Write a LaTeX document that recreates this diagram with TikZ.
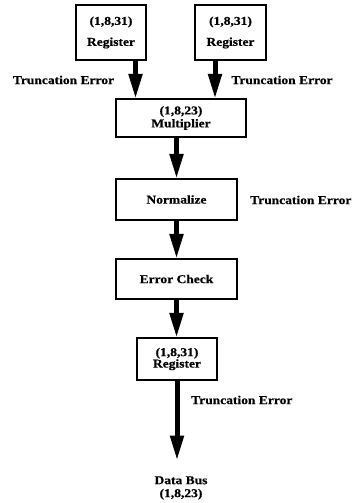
\documentclass[tikz,border=0pt]{standalone}
\usepackage{fontspec}
\setmainfont{Liberation Serif}[FakeStretch=1.13,FakeBold=0.6]
\usetikzlibrary{arrows.meta}
\begin{document}
\begin{tikzpicture}[x=1bp,y=-1bp,
  every node/.style={font=\fontsize{12}{13}\selectfont\bfseries, inner sep=0pt, align=center},
  blk/.style={draw, line width=1.3bp, rectangle},
  lbl/.style={},
  bigarrow/.style={line width=5bp, -{Triangle[width=13bp,length=25bp]}, shorten >=-0.5bp}
]
\useasboundingbox (0,0) rectangle (353,503);
\clip (0,0) rectangle (353,503);
\node[blk, line width=2.2bp, minimum width=70bp, minimum height=55bp] (reg1) at (111,32.5) {(1,8,31)\\[8bp]Register};
\node[blk, minimum width=71bp, minimum height=55bp] (reg2) at (230.5,32.5) {(1,8,31)\\[8bp]Register};
\node[blk, minimum width=130bp, minimum height=38bp] (mult) at (181,118) {(1,8,23)\\[0bp]Multiplier};
\node[blk, minimum width=121bp, minimum height=41bp] (norm) at (176.5,199.5) {Normalize};
\node[blk, minimum width=121bp, minimum height=40bp] (check) at (176.5,279) {Error Check};
\node[blk, minimum width=80bp, minimum height=42bp] (reg3) at (177,359) {(1,8,31)\\[-1.5bp]Register};
\coordinate (bus) at (177,460);
\node (db) at (181,488) {Data Bus\\[0bp](1,8,23)};

\node[lbl] (t1) at (63.5,80) {Truncation Error};
\node[lbl] (t2) at (282,80) {Truncation Error};
\node[lbl, anchor=west] (t3) at (250,200) {Truncation Error};
\node[lbl, anchor=west] (t4) at (191,400) {Truncation Error};

\draw[bigarrow] ([xshift=24.5bp]reg1.south) -- ([xshift=24.5bp]reg1.south |- mult.north);
\draw[bigarrow] ([xshift=-15.5bp]reg2.south) -- ([xshift=-15.5bp]reg2.south |- mult.north);
\draw[bigarrow] (mult.south -| check) -- (norm.north);
\draw[bigarrow] (norm.south) -- (check.north);
\draw[bigarrow] (check.south) -- (reg3.north -| check);
\draw[bigarrow] (reg3.south) -- (bus);
\end{tikzpicture}
\end{document}
